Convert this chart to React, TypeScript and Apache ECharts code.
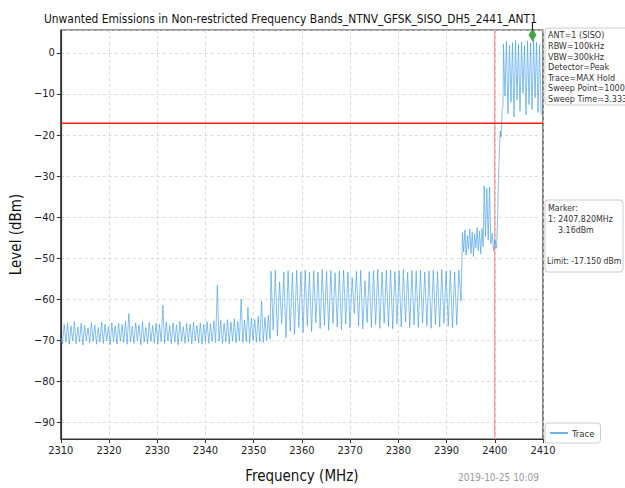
import React, { useEffect, useRef } from 'react';
import * as echarts from 'echarts';

const TITLE = 'Unwanted Emissions in Non-restricted Frequency Bands_NTNV_GFSK_SISO_DH5_2441_ANT1';
const X_TICKS = [2310, 2320, 2330, 2340, 2350, 2360, 2370, 2380, 2390, 2400, 2410];
const Y_TICKS = [0, -10, -20, -30, -40, -50, -60, -70, -80, -90];
const Y_MIN = -94.1;
const Y_MAX = 5.6;

// segment frequency ranges [start, end] (MHz), values sampled evenly inside
const seg1Range = [2310.0, 2353.4];
const seg1Levels = [
  -69.5, -70.8, -66.2, -70.5, -65.8, -71.0, -66.5, -70.2, -65.5, -70.9, -66.8, -70.4, -65.9, -71.2, -66.4, -70.1,
  -67.0, -70.7, -65.7, -70.3, -66.3, -71.0, -66.9, -70.5, -65.6, -70.8, -66.1, -70.2, -66.7, -71.1, -65.8, -70.4,
  -66.5, -70.9, -65.9, -70.3, -66.2, -70.6, -65.4, -71.0, -63.5, -70.4, -66.6, -70.8, -65.8, -70.2, -66.3, -71.1,
  -65.5, -70.5, -66.9, -70.9, -65.7, -70.3, -66.4, -70.7, -65.9, -71.0, -66.2, -70.4, -61.5, -70.8, -65.6, -70.2,
  -66.5, -70.9, -65.8, -70.5, -66.3, -71.1, -65.4, -70.3, -66.7, -70.8, -65.9, -70.4, -66.1, -70.9, -65.6, -70.2,
  -66.4, -70.7, -65.8, -71.0, -66.2, -70.4, -65.5, -70.8, -66.0, -70.3, -65.3, -70.6, -56.6, -70.2, -65.2, -70.8,
  -65.9, -70.4, -65.0, -70.9, -65.6, -70.3, -64.8, -70.7, -65.4, -70.2, -60.0, -70.6, -65.1, -70.4, -62.0, -70.8,
  -64.6, -70.1, -65.0, -70.5, -64.2, -70.3, -60.5, -70.6, -64.5, -70.0, -64.0, -69.8,
];
const seg2Range = [2353.6, 2393.0];
const seg2Levels = [
  -53.2, -67.5, -53.0, -69.0, -55.8, -66.0, -53.4, -69.5, -53.1, -67.8, -53.6, -68.6, -53.0, -66.9, -53.3, -68.2,
  -52.9, -66.5, -53.5, -67.9, -53.1, -65.8, -53.4, -67.2, -52.8, -66.4, -53.2, -67.6, -53.0, -65.9, -53.6, -66.8,
  -53.1, -67.4, -52.9, -66.1, -53.4, -67.0, -54.8, -63.5, -53.2, -66.6, -53.0, -67.3, -55.5, -65.7, -53.3, -66.9,
  -53.1, -66.2, -52.7, -67.1, -53.4, -65.9, -53.0, -66.7, -52.9, -67.2, -53.3, -66.0, -53.1, -66.8, -52.8, -65.6,
  -53.5, -67.0, -53.0, -66.3, -53.2, -66.9, -52.9, -65.8, -53.4, -66.5, -53.1, -67.1, -53.0, -66.2, -53.3, -66.8,
  -52.8, -65.9, -53.2, -66.6, -53.0, -67.0, -53.4, -66.3, -52.9, -60.5,
];
const seg3Range = [2393.3, 2397.6];
const seg3Levels = [
  -43.8, -48.5, -43.2, -49.3, -44.5, -47.8, -42.9, -48.9, -43.6, -49.6, -44.1, -47.5, -42.6, -48.2, -43.4, -49.0,
  -42.8, -47.2,
];
const seg4Range = [2397.8, 2400.3];
const seg4Levels = [-32.4, -44.8, -33.0, -45.6, -32.6, -46.5, -44.0, -48.2, -45.5, -47.6];
const seg5Range = [2400.4, 2401.7];
const seg5Levels = [-46.5, -40.0, -30.5, -24.0, -19.0, -20.5, -14.0, -13.0];
const seg6Range = [2401.8, 2409.6];
const seg6Levels = [
  2.2, -10.5, 2.8, -14.8, 1.9, -12.0, 2.5, -15.6, 3.0, -11.4, 2.1, -14.2, 2.7, -9.8, 1.8, -15.1, 2.9, -12.6, 2.4,
  -13.8, 3.16, -10.9, 2.6, -14.5, 2.0, -15.0,
];

const LIMIT = -17.15;
const BAND_EDGE = 2400;
const MARKER_FREQ = 2407.82;
const MARKER_LEVEL = 3.16;

const INFO_LINES = ['ANT=1 (SISO)', 'RBW=100kHz', 'VBW=300kHz', 'Detector=Peak', 'Trace=MAX Hold', 'Sweep Point=10001', 'Sweep Time=3.333ms'];
const MARKER_LINES = ['Marker:', '1: 2407.820MHz', '    3.16dBm'];
const LIMIT_TEXT = 'Limit: -17.150 dBm';
const DATE_TEXT = '2019-10-25 10:09';

const FONT = '"DejaVu Sans Condensed", "DejaVu Sans", sans-serif';

function buildTrace(): [number, number][] {
  const segs: [number[], number[]][] = [
    [seg1Range, seg1Levels],
    [seg2Range, seg2Levels],
    [seg3Range, seg3Levels],
    [seg4Range, seg4Levels],
    [seg5Range, seg5Levels],
    [seg6Range, seg6Levels],
  ];
  const out: [number, number][] = [];
  segs.forEach(([r, lv]) => {
    const n = lv.length;
    lv.forEach((v, i) => {
      out.push([r[0] + ((r[1] - r[0]) * i) / (n - 1), v]);
    });
  });
  return out;
}

export default function App() {
  const ref = useRef<HTMLDivElement>(null);
  useEffect(() => {
    const chart = echarts.init(ref.current!, null, { renderer: 'svg' });
    const xMin = X_TICKS[0];
    const xMax = X_TICKS[X_TICKS.length - 1];
    const option: any = {
      animation: false,
      backgroundColor: '#fff',
      title: {
        text: TITLE,
        left: 39,
        top: 8,
        textStyle: { fontFamily: FONT, fontSize: 11.9, fontWeight: 'normal', color: '#111' },
      },
      grid: { left: 55, right: 82, top: 30, bottom: 46, show: true, borderColor: '#333', borderWidth: 1.2, backgroundColor: 'transparent' },
      legend: {
        data: ['Trace'],
        left: 545,
        top: 423,
        orient: 'vertical',
        icon: 'rect',
        itemWidth: 18,
        itemHeight: 1.5,
        itemGap: 4,
        padding: [5, 6, 5, 5],
        borderColor: '#ccc',
        borderWidth: 1,
        borderRadius: 3,
        textStyle: { fontFamily: FONT, fontSize: 9.5, color: '#333', padding: [0, 0, 0, -1] },
      },
      xAxis: {
        type: 'value',
        min: xMin,
        max: xMax,
        interval: 10,
        name: 'Frequency (MHz)',
        nameLocation: 'middle',
        nameGap: 29,
        nameTextStyle: { fontFamily: FONT, fontSize: 15, color: '#111' },
        axisLine: { onZero: false, lineStyle: { color: '#333', width: 1.2 } },
        axisTick: { show: true, length: 4, lineStyle: { color: '#333' } },
        axisLabel: { fontFamily: FONT, fontSize: 11, color: '#222', margin: 6, formatter: (v: number) => String(v) },
        splitLine: { show: true, lineStyle: { color: '#d0d0d0', type: [3, 3], width: 0.8 } },
      },
      yAxis: {
        type: 'value',
        min: Y_MIN,
        max: Y_MAX,
        splitNumber: 10,
        name: 'Level (dBm)',
        nameLocation: 'middle',
        nameGap: 34,
        nameTextStyle: { fontFamily: FONT, fontSize: 15, color: '#111' },
        axisLine: { show: true, onZero: false, lineStyle: { color: '#333', width: 1.2 } },
        axisTick: { show: true, length: 4, lineStyle: { color: '#333' } },
        axisLabel: {
          fontFamily: FONT,
          fontSize: 11,
          color: '#222',
          margin: 6,
          showMinLabel: false,
          showMaxLabel: false,
          formatter: (v: number) => (Y_TICKS.includes(v) ? (v < 0 ? '\u2212' + Math.abs(v) : String(v)) : ''),
        },
        splitLine: { show: true, lineStyle: { color: '#d0d0d0', type: [3, 3], width: 0.8 } },
      },
      series: [
        {
          name: 'Edge',
          type: 'line',
          data: [
            [BAND_EDGE, Y_MIN],
            [BAND_EDGE, Y_MAX],
          ],
          showSymbol: false,
          symbol: 'none',
          silent: true,
          color: '#f28a8a',
          lineStyle: { color: '#f28a8a', width: 1.1 },
          z: 2,
        },
        {
          name: 'Trace',
          type: 'line',
          data: buildTrace(),
          showSymbol: false,
          symbol: 'none',
          color: '#3d9be9',
          lineStyle: { color: '#3d9be9', width: 0.7, opacity: 0.9 },
          z: 3,
        },
        {
          name: 'Limit',
          type: 'line',
          data: [
            [xMin, LIMIT],
            [xMax, LIMIT],
          ],
          showSymbol: false,
          symbol: 'none',
          silent: true,
          color: '#ff1a1a',
          lineStyle: { color: '#ff1a1a', width: 1.5, opacity: 1 },
          z: 4,
        },
        {
          name: 'Marker',
          type: 'scatter',
          data: [[MARKER_FREQ, MARKER_LEVEL]],
          symbol: 'diamond',
          symbolSize: [8, 13],
          symbolOffset: [0, -5],
          itemStyle: { color: '#1b8a1b' },
          z: 5,
        },
      ],
    };
    chart.setOption(option);
    const p = chart.convertToPixel({ gridIndex: 0 }, [MARKER_FREQ, MARKER_LEVEL]) as number[];
    chart.setOption({
      graphic: [
        { type: 'line', shape: { x1: p[0], y1: 22, x2: p[0], y2: 30 }, style: { stroke: '#222', lineWidth: 1.2 }, z: 10 },
        {
          type: 'rect',
          shape: { x: 545, y: 28, width: 95, height: 77, r: 3 },
          style: { fill: '#fff', stroke: '#ccc', lineWidth: 1 },
          z: 10,
        },
        {
          type: 'text',
          x: 548,
          y: 30,
          style: { text: INFO_LINES.join('\n'), fontFamily: FONT, fontSize: 9, lineHeight: 10.6, fill: '#333' },
          z: 11,
        },
        {
          type: 'rect',
          shape: { x: 545, y: 200, width: 78, height: 72, r: 3 },
          style: { fill: '#fff', stroke: '#ccc', lineWidth: 1 },
          z: 10,
        },
        {
          type: 'text',
          x: 548,
          y: 203,
          style: { text: MARKER_LINES.join('\n'), fontFamily: FONT, fontSize: 8.8, lineHeight: 10.8, fill: '#333' },
          z: 11,
        },
        {
          type: 'text',
          x: 547,
          y: 256,
          style: { text: LIMIT_TEXT, fontFamily: FONT, fontSize: 8.6, fill: '#333' },
          z: 11,
        },
        {
          type: 'text',
          x: 458,
          y: 472,
          style: { text: DATE_TEXT, fontFamily: FONT, fontSize: 10, fill: '#999' },
          z: 11,
        },
      ],
    });
    return () => chart.dispose();
  }, []);
  return <div ref={ref} style={{ position: 'absolute', left: 0, top: 0, width: 625, height: 488, background: '#fff' }} />;
}
